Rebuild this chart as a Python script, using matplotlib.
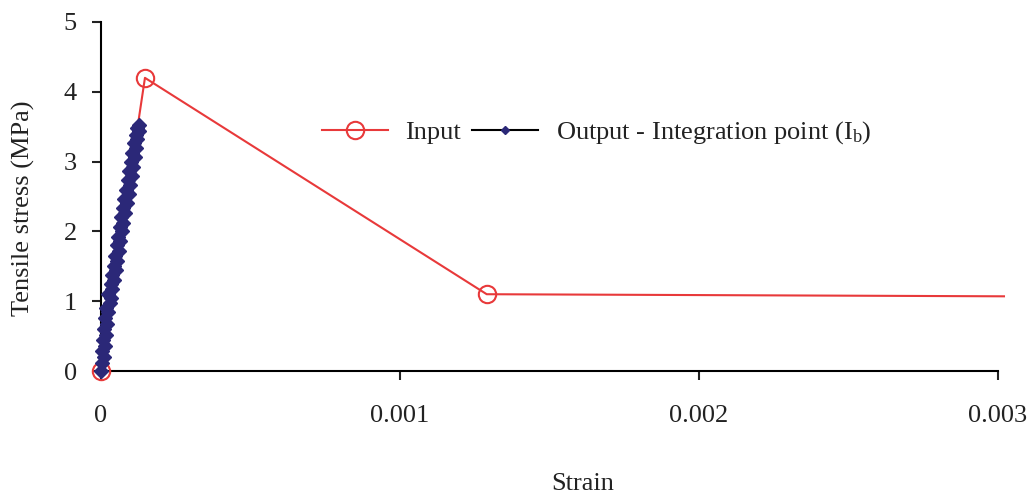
import matplotlib
matplotlib.use('Agg')
import matplotlib.pyplot as plt
from matplotlib.lines import Line2D

plt.rcParams['font.family'] = ['Liberation Serif', 'DejaVu Serif']
plt.rcParams['mathtext.fontset'] = 'custom'
plt.rcParams['mathtext.rm'] = 'Liberation Serif'

# Input softening curve
input_strain = [0.0, 0.000147, 0.00129, 0.00302]
input_stress = [0.0, 4.20, 1.10, 1.07]

# Output at integration point (strain in 1e-6)
output_strain_u = [0, 4, 9, 3, 12, 6, 16, 10, 20, 13, 24, 18, 29, 32, 25, 38, 33,
                   44, 38, 50, 43, 55, 48, 60, 53, 65, 57, 70, 63, 75, 67, 80,
                   73, 86, 78, 92, 84, 98, 90, 103, 95, 108, 101, 113, 105, 118,
                   110, 122, 116, 126, 120, 128]
output_stress = [0.00, 0.12, 0.20, 0.28, 0.36, 0.44, 0.52, 0.60, 0.68, 0.76, 0.84,
                 0.90, 0.98, 1.05, 1.10, 1.18, 1.24, 1.30, 1.38, 1.45, 1.50, 1.58,
                 1.65, 1.72, 1.80, 1.86, 1.92, 2.00, 2.06, 2.12, 2.20, 2.26, 2.34,
                 2.40, 2.46, 2.54, 2.60, 2.66, 2.74, 2.80, 2.86, 2.92, 3.00, 3.06,
                 3.12, 3.20, 3.26, 3.32, 3.38, 3.44, 3.48, 3.52]
output_strain = [v * 1e-6 for v in output_strain_u]

red = '#e8393a'
navy = '#2b2878'

fig = plt.figure(figsize=(10.31, 4.98), dpi=100)
ax = fig.add_axes([101 / 1031, 1 - 371 / 498, 897 / 1031, 349 / 498])

ax.plot(input_strain, input_stress, color=red, lw=1.5, marker='o', ms=12.5,
        mfc='none', mec=red, mew=1.5, markevery=[0, 1, 2], clip_on=False, zorder=3)
ax.plot(output_strain, output_stress, color='black', lw=1.5, marker='D', ms=7.5,
        mfc=navy, mec=navy, clip_on=False, zorder=4)

ax.set_xlim(0, 0.003)
ax.set_ylim(0, 5)
ax.set_xticks([0, 0.001, 0.002, 0.003])
ax.set_xticklabels(['0', '0.001', '0.002', '0.003'])
ax.set_yticks([0, 1, 2, 3, 4, 5])

for s in ['top', 'right']:
    ax.spines[s].set_visible(False)
for s in ['left', 'bottom']:
    ax.spines[s].set_linewidth(1.5)
ax.tick_params(axis='both', direction='out', length=6.5, width=1.5, labelsize=19,
               colors='#222222')
ax.tick_params(axis='x', pad=18)
ax.tick_params(axis='y', pad=11)

ax.set_xlabel('Strain', fontsize=19, color='#222222')
ax.set_ylabel('Tensile stress (MPa)', fontsize=19, color='#222222')
ax.xaxis.set_label_coords(0.537, -0.324)
ax.yaxis.set_label_coords(-0.087, 0.467)
ax.xaxis.label.set_va('center')
ax.yaxis.label.set_va('center')

handles = [
    Line2D([], [], color=red, lw=1.5, marker='o', ms=12.5, mfc='none', mec=red, mew=1.5),
    Line2D([], [], color='black', lw=1.5, marker='D', ms=4, mfc=navy, mec=navy),
]
labels = ['Input', r'Output - Integration point (I$\mathregular{_b}$)']
leg = ax.legend(handles, labels, ncol=2, frameon=False, fontsize=19,
                loc='center left', bbox_to_anchor=(0.246, 0.682),
                borderaxespad=0, borderpad=0, handlelength=2.5,
                handletextpad=0.65, columnspacing=0.45)
for t in leg.get_texts():
    t.set_color('#222222')

fig.savefig('out.png', dpi=100)
